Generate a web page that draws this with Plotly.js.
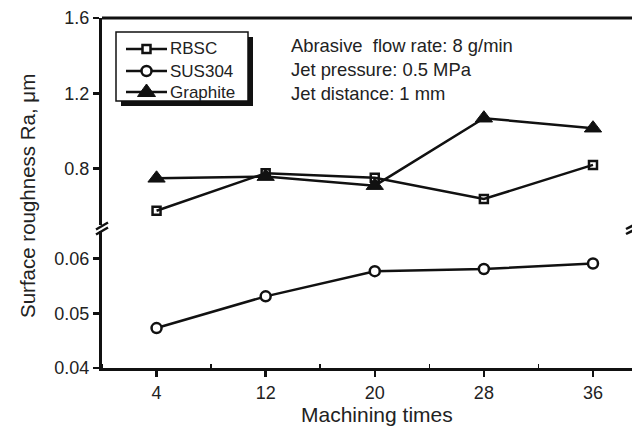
<!DOCTYPE html>
<html>
<head>
<meta charset="utf-8">
<script src="https://cdn.plot.ly/plotly-3.0.1.min.js"></script>
<style>html,body{margin:0;padding:0;background:#fff;}#chart{width:632px;height:429px;}</style>
</head>
<body>
<div id="chart"></div>
<script>
// ---- data ----
const machiningTimes = [4, 12, 20, 28, 36];
const rbsc = [0.577, 0.776, 0.752, 0.639, 0.82];
const graphite = [0.749, 0.758, 0.71, 1.068, 1.015];
const sus304 = [0.0473, 0.0531, 0.0577, 0.0581, 0.0591];
const seriesNames = ["RBSC", "SUS304", "Graphite"];
const xTicks = [4, 12, 20, 28, 36];
const upperTicks = [0.8, 1.2, 1.6];
const lowerTicks = [0.04, 0.05, 0.06];
const noteLines = ["Abrasive\u00a0 flow rate: 8 g/min", "Jet pressure: 0.5 MPa", "Jet distance: 1 mm"];

// ---- layout helpers (pixel -> paper) ----
const W = 632, H = 429, ML = 102, MR = 0, MT = 18, MB = 61;
const PW = W - ML - MR, PH = H - MT - MB;
const px = x => (x - ML) / PW;
const py = y => (H - MB - y) / PH;

const font = "Liberation Sans, Arial, sans-serif";
const ink = "#111";
const txt = "#222";

const traces = [
  {x: machiningTimes, y: rbsc, name: seriesNames[0], xaxis: "x", yaxis: "y2", mode: "lines+markers",
   line: {color: ink, width: 2.5},
   marker: {symbol: "square-open", size: 8, color: ink, line: {width: 2.5, color: ink}}},
  {x: machiningTimes, y: sus304, name: seriesNames[1], xaxis: "x", yaxis: "y", mode: "lines+markers",
   line: {color: ink, width: 2.5},
   marker: {symbol: "circle", size: 10, color: "#fff", line: {width: 2.5, color: ink}}},
  {x: machiningTimes, y: graphite, name: seriesNames[2], xaxis: "x", yaxis: "y2", mode: "lines+markers",
   line: {color: ink, width: 2.5},
   marker: {symbol: "triangle-up", size: 15, color: ink, line: {width: 1, color: ink}}}
];

const axisCommon = {
  showgrid: false, zeroline: false, showline: true, linecolor: ink, linewidth: 3,
  ticks: "outside", ticklen: 6, tickwidth: 2.5, tickcolor: ink,
  tickfont: {family: font, size: 18, color: txt}
};

const L = (x0, y0, x1, y1, w) => ({type: "line", xref: "paper", yref: "paper",
  x0: px(x0), y0: py(y0), x1: px(x1), y1: py(y1), line: {color: ink, width: w || 2.5}});

const shapes = [
  // top border
  {type: "line", xref: "paper", yref: "paper", x0: 0, x1: 1, y0: 1, y1: 1, line: {color: ink, width: 3}},
  // left break marks
  L(96, 229.5, 108, 222.5), L(96, 234.5, 108, 227.5),
  // right break marks
  L(626, 229, 634, 225), L(626, 234, 634, 230),
  // legend shadow + box
  {type: "rect", xref: "paper", yref: "paper", x0: px(121), x1: px(253), y0: py(106), y1: py(37),
   fillcolor: ink, line: {width: 0}},
  {type: "rect", xref: "paper", yref: "paper", x0: px(116), x1: px(248), y0: py(101), y1: py(32),
   fillcolor: "#fff", line: {color: ink, width: 1.5}}
];

// legend entries (drawn as layout decorations)
const rowY = [49, 71, 92];
const sx0 = 126, sx1 = 167, sxm = 146.5;
rowY.forEach(y => shapes.push(L(sx0, y, sx1, y, 2.5)));
shapes.push({type: "rect", xref: "paper", yref: "paper", x0: px(sxm - 4), x1: px(sxm + 4),
  y0: py(rowY[0] + 4), y1: py(rowY[0] - 4), fillcolor: "#fff", line: {color: ink, width: 2.5}});
shapes.push({type: "circle", xref: "paper", yref: "paper", x0: px(sxm - 5), x1: px(sxm + 5),
  y0: py(rowY[1] + 5), y1: py(rowY[1] - 5), fillcolor: "#fff", line: {color: ink, width: 2.5}});
shapes.push({type: "path", xref: "paper", yref: "paper",
  path: `M${px(sxm - 9)},${py(rowY[2] + 4.5)} L${px(sxm + 9)},${py(rowY[2] + 4.5)} L${px(sxm)},${py(rowY[2] - 8)} Z`,
  fillcolor: ink, line: {color: ink, width: 1}});

const annotations = noteLines.map((t, i) => ({
  text: t, xref: "paper", yref: "paper", x: px(289), y: py(46 + i * 23.5),
  xanchor: "left", yanchor: "middle", showarrow: false,
  font: {family: font, size: 18.4, color: txt}
}));
seriesNames.forEach((n, i) => annotations.push({
  text: n, xref: "paper", yref: "paper", x: px(168), y: py(rowY[i]),
  xanchor: "left", yanchor: "middle", showarrow: false,
  font: {family: font, size: 17, color: txt}
}));
annotations.push({
  text: "Machining times", xref: "paper", yref: "paper", x: px(377), y: py(414),
  xanchor: "center", yanchor: "middle", showarrow: false,
  font: {family: font, size: 21, color: txt}
});
annotations.push({
  text: "Surface roughness Ra, \u03bcm", xref: "paper", yref: "paper", x: px(27), y: py(196),
  xanchor: "center", yanchor: "middle", textangle: -90, showarrow: false,
  font: {family: font, size: 20.5, color: txt}
});

const layout = {
  width: W, height: H,
  margin: {l: ML, r: MR, t: MT, b: MB, pad: 0},
  paper_bgcolor: "#fff", plot_bgcolor: "#fff",
  showlegend: false,
  xaxis: Object.assign({}, axisCommon, {
    range: [0, 38.86], anchor: "y", tickvals: xTicks, ticktext: xTicks.map(String),
    minor: {dtick: 8, tick0: 0, ticks: "inside", ticklen: 4, tickwidth: 1.5, tickcolor: ink}
  }),
  yaxis: Object.assign({}, axisCommon, {
    domain: [0, py(231.25)], range: [0.04, 0.065], anchor: "x",
    tickvals: lowerTicks, ticktext: lowerTicks.map(v => v.toFixed(2))
  }),
  yaxis2: Object.assign({}, axisCommon, {
    domain: [py(225.2), 1], range: [0.5, 1.6], anchor: "x",
    tickvals: upperTicks, ticktext: upperTicks.map(v => v.toFixed(1))
  }),
  shapes: shapes,
  annotations: annotations
};

Plotly.newPlot("chart", traces, layout, {displayModeBar: false, staticPlot: true});
</script>
</body>
</html>
